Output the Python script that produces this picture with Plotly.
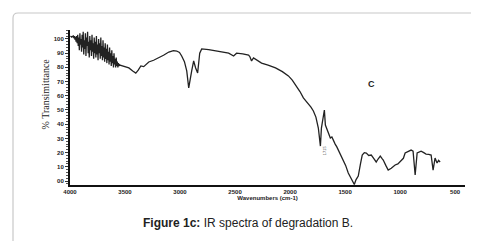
import plotly.graph_objects as go

# Wavenumber (cm-1) and % transmittance
noisy_wavenumber = [3995, 3990, 3985, 3980, 3975, 3970, 3965, 3960, 3955, 3950, 3945, 3940, 3935,
                    3930, 3925, 3920, 3915, 3910, 3905, 3900, 3895, 3890, 3885, 3880, 3875, 3870,
                    3865, 3860, 3855, 3850, 3845, 3840, 3835, 3830, 3825, 3820, 3815, 3810, 3805,
                    3800, 3795, 3790, 3785, 3780, 3775, 3770, 3765, 3760, 3755, 3750, 3745, 3740,
                    3735, 3730, 3725, 3720, 3715, 3710, 3705, 3700, 3695, 3690, 3685, 3680, 3675,
                    3670, 3665, 3660, 3655, 3650, 3645, 3640, 3635, 3630, 3625, 3620, 3615, 3610,
                    3605, 3600, 3595, 3590, 3585, 3580, 3575, 3570, 3565, 3560, 3555, 3550, 3545]
noisy_transmittance = [101.5, 102, 101, 102, 101.5, 102.5, 100.5, 102, 99.5, 101.5, 98, 102, 97,
                       103, 95, 101, 92, 104, 96, 100, 91, 103, 94, 105, 89, 99,
                       93, 104, 88, 101, 95, 105, 90, 98, 87, 102, 92, 99, 88,
                       103, 91, 97, 86, 101, 90, 98, 87, 102, 89, 96, 85, 100,
                       90, 97, 86, 101, 88, 95, 85, 99, 87, 94, 84, 97, 86,
                       93, 83, 96, 85, 91, 82, 94, 84, 90, 81, 92, 83, 88,
                       80, 90, 82, 86, 80, 87, 81, 84, 80, 83, 81, 82, 81.5]

smooth_wavenumber = [3500, 3465, 3430, 3402, 3380, 3356, 3330, 3284, 3240, 3193, 3150, 3102, 3060,
                     3030, 3005, 2985, 2960, 2939, 2921, 2894, 2876, 2858, 2840, 2821, 2803, 2740,
                     2676, 2620, 2558, 2513, 2486, 2430, 2377, 2365, 2350, 2332, 2300, 2259, 2200,
                     2132, 2070, 2015, 1980, 1942, 1910, 1879, 1840, 1810, 1788, 1765, 1743, 1724,
                     1715, 1700, 1688, 1679, 1660, 1645, 1634, 1620, 1607, 1590, 1575, 1561, 1545,
                     1530, 1516, 1495, 1471, 1445, 1416, 1400, 1380, 1360, 1344, 1325, 1307, 1285,
                     1262, 1240, 1217, 1200, 1180, 1165, 1153, 1130, 1108, 1080, 1045, 1020, 990,
                     970, 954, 925, 900, 882, 863, 845, 830, 809, 785, 764, 740, 718, 700, 682, 664,
                     650, 636]
smooth_transmittance = [80.5, 79.6, 77.5, 76, 78, 81, 80.5, 83.8, 85, 86.6, 88.5, 90.8, 91.8,
                        91.5, 90.5, 88, 84, 77.5, 65.5, 77.5, 84.5, 79.6, 76, 90, 93, 92.5,
                        91.5, 91, 90, 88, 90, 89.5, 88.7, 87.5, 84.5, 86.6, 85, 83, 81.5,
                        79.6, 77, 74, 71, 67, 63, 58.5, 55, 52, 49.3, 45, 37.3, 24.6,
                        37.3, 45, 50, 39.4, 36, 33, 30.3, 31, 28.2, 26, 24, 21.8, 19,
                        17, 14.8, 11, 5.6, 1.5, -2.5, 1, 3.5, 12, 18.3, 20, 19.7, 18,
                        18.3, 16, 13.4, 15.5, 17.6, 16, 14.8, 11, 7.7, 9, 11.3, 12, 14,
                        16, 19.7, 21, 21.8, 21, 4.2, 19.7, 20.5, 21, 20, 19, 18.8, 18.3, 7.7,
                        16.2, 12.7, 14.5, 13.4]

x_tick_vals = [4000, 3500, 3000, 2500, 2000, 1500, 1000, 500]
y_tick_vals = [0, 10, 20, 30, 40, 50, 60, 70, 80, 90, 100]
y_tick_text = ["00", "10", "20", "30", "40", "50", "60", "70", "80", "90", "100"]

wavenumber = noisy_wavenumber + smooth_wavenumber
transmittance = noisy_transmittance + smooth_transmittance

fig = go.Figure()
fig.add_trace(go.Scatter(x=wavenumber, y=transmittance, mode="lines",
                         line=dict(color="#222222", width=1.3), showlegend=False,
                         hoverinfo="skip"))

tickfont = dict(family="Liberation Sans", size=6, color="#222222", weight="bold")

fig.update_xaxes(range=[4000, 410], tickvals=x_tick_vals, tickfont=tickfont,
                 showline=True, linecolor="#111111", linewidth=2, showgrid=False,
                 zeroline=False, ticks="", ticklen=2,
                 title=dict(text="<b>Wavenumbers (cm-1)</b>",
                            font=dict(family="Liberation Sans", size=6, color="#222222"),
                            standoff=2))
fig.update_yaxes(range=[-2.8, 106.3], tickvals=y_tick_vals, ticktext=y_tick_text,
                 tickfont=tickfont, showline=True, linecolor="#111111", linewidth=2,
                 showgrid=False, zeroline=False, ticks="outside", ticklen=3,
                 tickcolor="#333333",
                 minor=dict(ticks="outside", ticklen=2, dtick=2, tickcolor="#555555"))

# outer rounded frame (paper coordinates)
x0, x1, y0, y1 = -0.1443, 1.038, -0.3935, 1.1097
rx, ry = 0.0127, 0.0323
path = (f"M {x0+rx},{y0} L {x1-rx},{y0} Q {x1},{y0} {x1},{y0+ry} "
        f"L {x1},{y1-ry} Q {x1},{y1} {x1-rx},{y1} L {x0+rx},{y1} Q {x0},{y1} {x0},{y1-ry} "
        f"L {x0},{y0+ry} Q {x0},{y0} {x0+rx},{y0} Z")
fig.add_shape(type="path", path=path, xref="paper", yref="paper",
              line=dict(color="#c8c8c8", width=1.2), layer="below")

fig.add_annotation(text="% Transimittance", textangle=-90, xref="paper", yref="paper",
                   x=-0.081, y=0.587, showarrow=False,
                   font=dict(family="Liberation Serif", size=10, color="#222222"))
fig.add_annotation(text="<b>C</b>", x=1262, y=68.3, showarrow=False,
                   font=dict(family="Liberation Sans", size=9, color="#222222"))
fig.add_annotation(text="1715", x=1690, y=21.8, textangle=-90, showarrow=False,
                   font=dict(family="Liberation Sans", size=4, color="#333333"))
fig.add_annotation(text="<b>Figure 1c:</b> IR spectra of degradation B.",
                   xref="paper", yref="paper", x=0.4506, y=-0.303, showarrow=False,
                   font=dict(family="Liberation Sans", size=12, color="#222222"))

fig.update_layout(width=479, height=241, margin=dict(l=62, r=22, t=22, b=64),
                  paper_bgcolor="white", plot_bgcolor="white")

fig.write_html("out.html")
